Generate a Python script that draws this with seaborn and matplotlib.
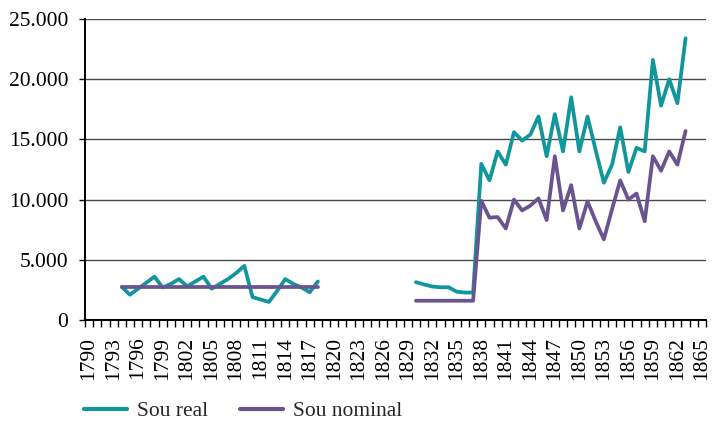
import numpy as np
import pandas as pd
import matplotlib
matplotlib.use("Agg")
import matplotlib.pyplot as plt
import seaborn as sns
from matplotlib.ticker import FixedLocator, FuncFormatter

# ---- data ----
series_names = ["Sou real", "Sou nominal"]

years_a = list(range(1794, 1819))
real_a = [2750, 2100, 2600, 3100, 3600, 2700, 3000, 3400, 2800, 3200, 3600, 2600,
          3000, 3400, 3900, 4500, 1900, 1700, 1500, 2400, 3400, 3000, 2700, 2300, 3200]
nominal_a = [2720] * 25

years_b = list(range(1830, 1864))
real_b = [3140, 2950, 2780, 2720, 2720, 2350, 2280, 2280, 12970, 11600, 14000, 12900,
          15600, 14900, 15400, 16900, 13600, 17100, 14000, 18500, 14000, 16900, 14100,
          11400, 12900, 16000, 12300, 14300, 14000, 21600, 17800, 20000, 18000, 23400]
nominal_b = [1600, 1600, 1600, 1600, 1600, 1600, 1600, 1600, 9900, 8500, 8550, 7600,
             10000, 9100, 9500, 10100, 8300, 13600, 9100, 11200, 7600, 9850, 8200,
             6700, 9200, 11600, 10000, 10500, 8200, 13600, 12400, 14000, 12900, 15700]

year_labels = list(range(1790, 1866, 3))
y_ticks = [0, 5000, 10000, 15000, 20000, 25000]

# ---- long-form table ----
frames = []
for seg, (yrs, r, n) in enumerate([(years_a, real_a, nominal_a), (years_b, real_b, nominal_b)]):
    frames.append(pd.DataFrame({"year": yrs, "value": r, "series": series_names[0], "segment": seg}))
    frames.append(pd.DataFrame({"year": yrs, "value": n, "series": series_names[1], "segment": seg}))
df = pd.concat(frames, ignore_index=True)

sns.set_theme(style="white")
plt.rcParams["font.family"] = ["Liberation Serif", "DejaVu Serif"]

FS = 15.5
fig = plt.figure(figsize=(7.12, 4.21), dpi=100)
ax = fig.add_axes([85 / 712, 1 - 320 / 421, (706 - 85) / 712, (320 - 19) / 421])

palette = {"Sou real": "#11969b", "Sou nominal": "#6a5490"}
sns.lineplot(data=df, x="year", y="value", hue="series", units="segment",
             estimator=None, palette=palette, linewidth=2.7, ax=ax,
             hue_order=series_names, legend="auto")

leg = ax.get_legend()
handles = leg.legend_handles
labels = [t.get_text() for t in leg.get_texts()]
leg.remove()

ax.set_xlim(1789.5, 1865.5)
ax.set_ylim(0, 25000)
ax.set_xlabel("")
ax.set_ylabel("")

# y axis
ax.yaxis.set_major_locator(FixedLocator(y_ticks))
ax.yaxis.set_major_formatter(FuncFormatter(lambda v, p: f"{v:,.0f}".replace(",", ".")))
ax.tick_params(axis="y", which="major", length=4, width=1, color="black",
               labelsize=FS, pad=8, labelcolor="black", left=True)
ax.grid(axis="y", color="#4a4a4a", linewidth=1.0)
ax.grid(axis="x", visible=False)

# x axis: category boundaries as minor ticks, labels every 3 years
ax.xaxis.set_major_locator(FixedLocator(year_labels))
ax.set_xticklabels([str(y) for y in year_labels], rotation=90, va="top", ha="center")
ax.xaxis.set_minor_locator(FixedLocator(np.arange(1789.5, 1866, 1.0)))
ax.tick_params(axis="x", which="major", length=0, labelsize=FS, pad=12, labelcolor="black")
ax.tick_params(axis="x", which="minor", length=5, width=1, color="black", bottom=True)

for s in ["top", "right"]:
    ax.spines[s].set_visible(False)
for s in ["left", "bottom"]:
    ax.spines[s].set_color("black")
    ax.spines[s].set_linewidth(1.4)
ax.set_axisbelow(True)

for h in handles:
    h.set_linewidth(3)
fig.legend(handles, labels, loc="center left", bbox_to_anchor=(84 / 712, 1 - 411 / 421),
           ncol=2, frameon=False, fontsize=FS, handlelength=2.0, handletextpad=0.45,
           columnspacing=1.5, borderpad=0, borderaxespad=0)

fig.savefig("out.png", dpi=100)
